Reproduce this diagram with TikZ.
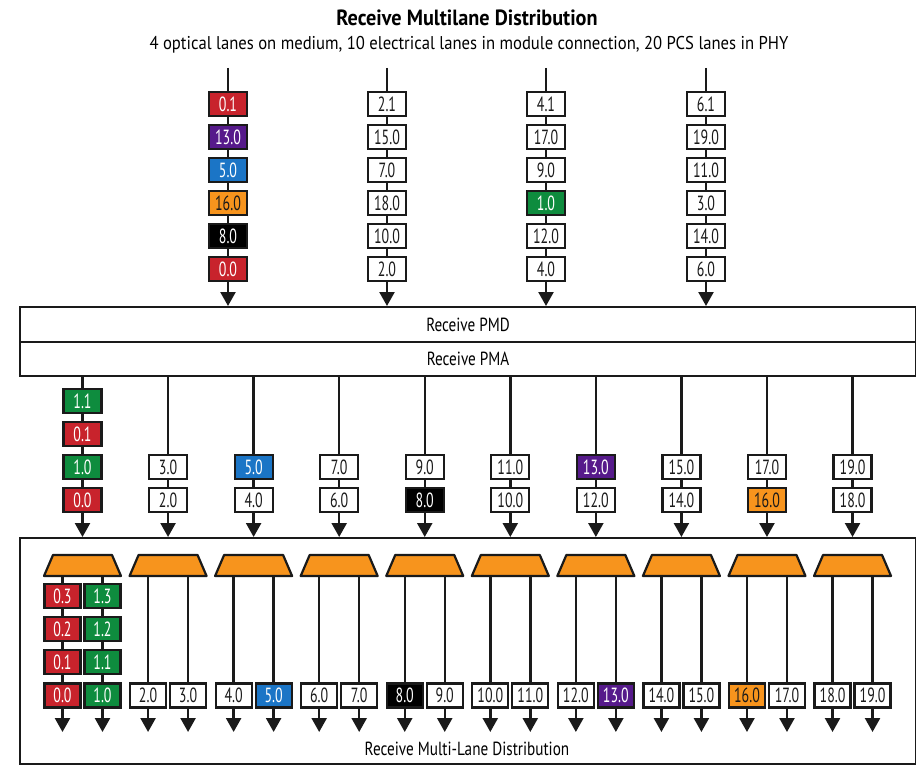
\documentclass[tikz,border=0pt]{standalone}
\usepackage{fontspec}
\setmainfont{PT Sans}[FakeStretch=0.85]
\newfontfamily\ftitle{PT Sans}[FakeStretch=0.92]
\newfontfamily\fsub{PT Sans}[FakeStretch=0.9]
\newfontfamily\flayer{PT Sans}[FakeStretch=0.8]
\newfontfamily\flab{PT Sans}[FakeStretch=0.68]
\usetikzlibrary{arrows.meta}
\definecolor{cred}{HTML}{C8232C}
\definecolor{cgreen}{HTML}{0E8C3E}
\definecolor{cblue}{HTML}{1B75C6}
\definecolor{cpurple}{HTML}{561A8B}
\definecolor{corange}{HTML}{F7941D}
\definecolor{ink}{HTML}{1A1A1A}
\begin{document}
\begin{tikzpicture}[x=1pt,y=-1pt,
  lbl/.style={draw=ink, line width=2.2pt, fill=white, text=ink, minimum width=38pt, minimum height=24pt, inner sep=0pt, font=\flab\fontsize{20.5}{20.5}\selectfont},
  sbl/.style={lbl, minimum width=36pt},
  cR/.style={fill=cred,text=white}, cG/.style={fill=cgreen,text=white},
  cB/.style={fill=cblue,text=white}, cP/.style={fill=cpurple,text=white},
  cO/.style={fill=corange,text=ink}, cK/.style={fill=black,text=white}, cW/.style={},
  link/.style={line width=2.4pt, draw=ink},
  arr/.style={link, -{Triangle[width=15pt,length=14pt]}},
  layer/.style={draw=ink, line width=2.2pt, minimum width=896pt, inner sep=0pt, anchor=north west, font=\flayer\fontsize{19}{19}\selectfont},
  trap/.style={draw=ink, line width=2.2pt, fill=corange, line join=round}
]
\path[use as bounding box] (0,0) rectangle (916,765);

\node[font=\ftitle\bfseries\fontsize{22}{22}\selectfont] (title) at (467,18) {Receive Multilane Distribution};
\node[font=\fsub\fontsize{18.5}{18.5}\selectfont] (sub) at (469,45) {4 optical lanes on medium, 10 electrical lanes in module connection, 20 PCS lanes in PHY};

\node[layer, minimum height=35pt] (pmd) at (19,306) {Receive PMD};
\node[layer, minimum height=34pt] (pma) at (19,341) {Receive PMA};
\node[layer, minimum height=226pt] (mld) at (19,537) {};
\node[font=\flayer\fontsize{19}{19}\selectfont] (mldlab) at (467,749) {Receive Multi-Lane Distribution};

% top lanes
\foreach \n/\xx/\labs in {
  A/228/{0.1/cR,13.0/cP,5.0/cB,16.0/cO,8.0/cK,0.0/cR},
  B/387/{2.1/cW,15.0/cW,7.0/cW,18.0/cW,10.0/cW,2.0/cW},
  C/546/{4.1/cW,17.0/cW,9.0/cW,1.0/cG,12.0/cW,4.0/cW},
  D/706/{6.1/cW,19.0/cW,11.0/cW,3.0/cW,14.0/cW,6.0/cW}} {
  \coordinate (t\n0) at (\xx,68);
  \foreach \lab/\c [count=\k] in \labs {
    \node[lbl,\c] (t\n\k) at (\xx,{104+33*(\k-1)}) {\lab};
  }
  \draw[link] (t\n0) -- (t\n1.north);
  \foreach \k [evaluate=\k as \kk using int(\k+1)] in {1,...,5} {
    \draw[link] (t\n\k.south) -- (t\n\kk.north);
  }
  \draw[arr] (t\n6.south) -- (t\n6 |- pmd.north);
}

% middle lanes
\coordinate (yb) at (0,732);
\foreach \i/\ct/\cb in {0/cW/cW,1/cW/cW,2/cB/cW,3/cW/cW,4/cW/cK,5/cW/cW,6/cP/cW,7/cW/cW,8/cW/cO,9/cW/cW} {
  \pgfmathsetmacro\xx{82.5+85.56*\i}
  \pgfmathtruncatemacro\hiv{2*\i+1}
  \pgfmathtruncatemacro\lov{2*\i}
  \ifnum\i=0
    \node[lbl,cG] (mx0) at (\xx,401) {1.1};
    \node[lbl,cR] (my0) at (\xx,434) {0.1};
    \node[lbl,cG] (mt0) at (\xx,467) {1.0};
    \node[lbl,cR] (mb0) at (\xx,500) {0.0};
    \draw[link] (mx0 |- pma.south) -- (mx0.north);
    \draw[link] (mx0.south) -- (my0.north);
    \draw[link] (my0.south) -- (mt0.north);
  \else
    \node[lbl,\ct] (mt\i) at (\xx,467) {\hiv.0};
    \node[lbl,\cb] (mb\i) at (\xx,500) {\lov.0};
    \draw[link] (mt\i |- pma.south) -- (mt\i.north);
  \fi
  \draw[link] (mt\i.south) -- (mb\i.north);
  \draw[arr] (mb\i.south) -- (mb\i |- mld.north);
  % bottom distribution
  \draw[trap] ({\xx-29.5},555) -- ({\xx+29.5},555) -- ({\xx+38.5},576) -- ({\xx-38.5},576) -- cycle;
  \coordinate (T\i) at (\xx,576);
  \ifnum\i=0
    \foreach \r/\yy in {3/596,2/629,1/662} {
      \node[sbl,cR] (bl0\r) at ({\xx-20},\yy) {0.\r};
      \node[sbl,cG] (br0\r) at ({\xx+20},\yy) {1.\r};
    }
    \node[sbl,cR] (bl0) at ({\xx-20},695.5) {0.0};
    \node[sbl,cG] (br0) at ({\xx+20},695.5) {1.0};
    \draw[link] (bl03 |- T0) -- (bl03.north);
    \draw[link] (br03 |- T0) -- (br03.north);
    \draw[link] (bl03.south) -- (bl02.north);
    \draw[link] (br03.south) -- (br02.north);
    \draw[link] (bl02.south) -- (bl01.north);
    \draw[link] (br02.south) -- (br01.north);
    \draw[link] (bl01.south) -- (bl0.north);
    \draw[link] (br01.south) -- (br0.north);
  \else
    \node[sbl,\cb] (bl\i) at ({\xx-20},695.5) {\lov.0};
    \node[sbl,\ct] (br\i) at ({\xx+20},695.5) {\hiv.0};
    \draw[link] (bl\i |- T\i) -- (bl\i.north);
    \draw[link] (br\i |- T\i) -- (br\i.north);
  \fi
  \draw[arr] (bl\i.south) -- (bl\i |- yb);
  \draw[arr] (br\i.south) -- (br\i |- yb);
}
\end{tikzpicture}
\end{document}
